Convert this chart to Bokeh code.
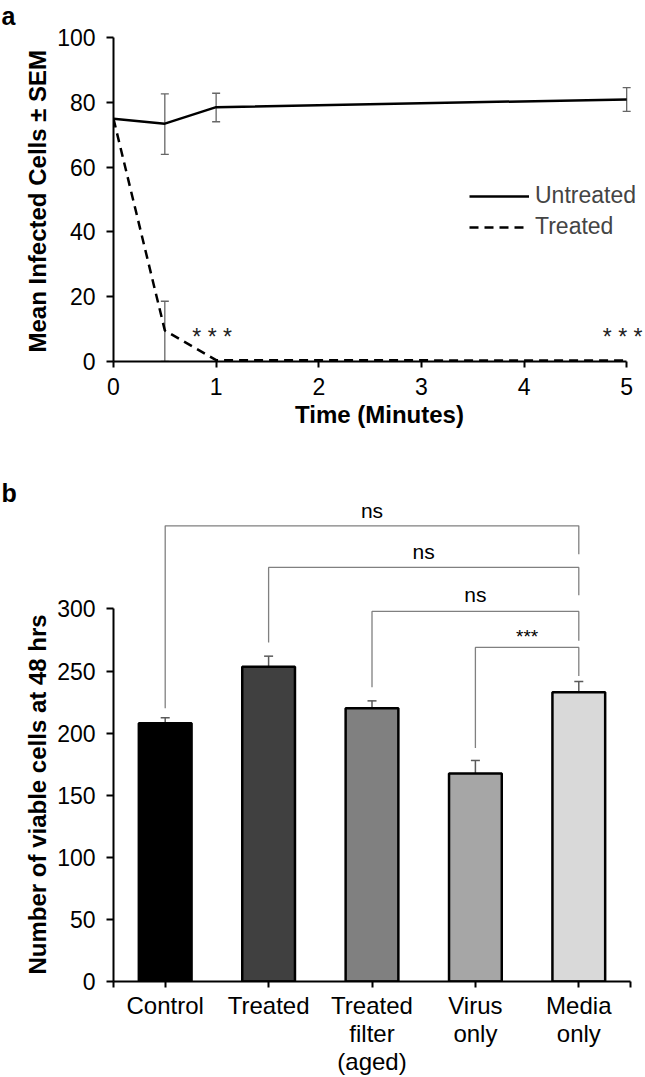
import numpy as np
from bokeh.plotting import figure
from bokeh.models import (Range1d, FixedTicker, Whisker, TeeHead, ColumnDataSource,
                          Legend, LegendItem, LabelSet, Title)
from bokeh.layouts import column, row
from bokeh.core.properties import value
from bokeh.embed import file_html
from bokeh.resources import INLINE

FONT = "Liberation Sans"

# ---------------- panel a data ----------------
time_min = [0, 0.5, 1, 5]
untreated_mean = [74.9, 73.4, 78.5, 80.9]
treated_mean = [74.9, 9.6, 0.4, 0.3]
untreated_err_time = [0.5, 1, 5]
untreated_upper = [82.6, 82.8, 84.5]
untreated_lower = [63.9, 74.0, 77.2]
treated_err_time = [0.5]
treated_upper = [18.6]
treated_lower = [0.0]
sig_time = [1, 5]
sig_y = [7.6, 7.6]
sig_text = ["* * *", "* * *"]
x_ticks_a = [0, 1, 2, 3, 4, 5]
y_ticks_a = [0, 20, 40, 60, 80, 100]

# ---------------- panel b data ----------------
groups = ["Control", "Treated", "Treated\nfilter\n(aged)", "Virus\nonly", "Media\nonly"]
viable = [208, 253.5, 220, 167.5, 233]
viable_upper = [212.5, 262, 226, 178, 241.5]
viable_lower = [203.5, 245, 214, 156, 225]
bar_colors = ["#000000", "#404040", "#808080", "#a6a6a6", "#d9d9d9"]
cmp_left = [0, 1, 2, 3]
cmp_right = [4, 4, 4, 4]
cmp_top = [367, 333.5, 298, 269]
cmp_left_end = [220, 273, 237, 188]
cmp_right_end = [344, 311, 274.5, 246]
cmp_label = ["ns", "ns", "ns", "***"]
cmp_label_y = [379, 346, 311.7, 278]
y_ticks_b = [0, 50, 100, 150, 200, 250, 300]


def style_axes(p):
    for ax in (p.xaxis[0], p.yaxis[0]):
        ax.axis_line_width = 2
        ax.axis_line_color = "black"
        ax.major_tick_line_width = 2
        ax.major_tick_line_color = "black"
        ax.major_tick_in = 0
        ax.minor_tick_line_color = None
        ax.major_label_text_font = FONT
        ax.major_label_text_font_size = "23px"
        ax.major_label_text_color = "black"
        ax.axis_label_text_font = FONT
        ax.axis_label_text_font_style = "bold"
        ax.axis_label_text_font_size = "24px"
        ax.axis_label_text_color = "black"
    p.xgrid.visible = False
    p.ygrid.visible = False
    p.outline_line_color = None


def panel_letter(letter, h, frame_h, baseline_y):
    # narrow strip holding the panel letter; its frame is aligned with the neighbour's frame
    f = figure(width=17, height=h, x_range=Range1d(0, 17), y_range=Range1d(frame_h, 0),
               x_axis_type=None, y_axis_type=None, output_backend="svg",
               toolbar_location=None, min_border=0)
    f.outline_line_color = None
    f.text(x=[1], y=[baseline_y], text=[letter], text_font=value(FONT),
           text_font_size="25px", text_font_style="bold", text_baseline="alphabetic",
           text_color="black")
    return f


# ---------------- panel a ----------------
HA = 440
BOT_A = 79
frame_h_a = HA - BOT_A
pa = figure(width=628, height=HA, x_range=Range1d(0, 5 * 537 / 518),
            y_range=Range1d(0, 100 * frame_h_a / 324),
            output_backend="svg", toolbar_location=None,
            min_border_left=91, min_border_right=0, min_border_top=0, min_border_bottom=BOT_A)
style_axes(pa)
pa.xaxis.ticker = FixedTicker(ticks=x_ticks_a)
pa.xaxis.bounds = (0, 5)
pa.xaxis.major_tick_out = 6
pa.xaxis.major_label_standoff = 10
pa.xaxis.axis_label = "Time (Minutes)"
pa.xaxis.axis_label_standoff = 3
pa.yaxis.ticker = FixedTicker(ticks=y_ticks_a)
pa.yaxis.bounds = (0, 100)
pa.yaxis.major_tick_out = 7
pa.yaxis.major_label_standoff = 11
pa.add_layout(Title(text="Mean Infected Cells ± SEM", align="left", offset=9,
                    standoff=8, text_font=FONT, text_font_size="24px",
                    text_font_style="bold", text_color="black"), "left")

err_col = "#666666"
for t, up, lo in ((untreated_err_time, untreated_upper, untreated_lower),
                  (treated_err_time, treated_upper, treated_lower)):
    src = ColumnDataSource(dict(base=t, upper=up, lower=lo))
    pa.add_layout(Whisker(base="base", upper="upper", lower="lower", source=src,
                          line_color=err_col, line_width=1.3,
                          upper_head=TeeHead(size=8, line_color=err_col, line_width=1.3),
                          lower_head=TeeHead(size=8, line_color=err_col, line_width=1.3)))

r_un = pa.line(time_min, untreated_mean, line_color="black", line_width=2.5)
r_tr = pa.line(time_min, treated_mean, line_color="black", line_width=2.5, line_dash="9 6")

sig_src = ColumnDataSource(dict(x=sig_time, y=sig_y, text=sig_text))
pa.add_layout(LabelSet(x="x", y="y", text="text", source=sig_src, text_align="center",
                       text_baseline="middle", text_font=value(FONT), text_font_size="23px",
                       text_color="#222222", x_offset=-4))

legend = Legend(items=[LegendItem(label="Untreated", renderers=[r_un]),
                       LegendItem(label="Treated", renderers=[r_tr])],
                location=(356, 121), label_text_font=FONT, label_text_font_size="23px",
                glyph_width=60, glyph_height=24, label_height=24, spacing=4, padding=0,
                margin=0, label_standoff=6, border_line_alpha=0, background_fill_alpha=0)
pa.add_layout(legend)

fa = panel_letter("a", HA, frame_h_a, 15)

# ---------------- panel b ----------------
HB = 637
BOT_B = 88
frame_h_b = HB - BOT_B
pb = figure(width=628, height=HB, x_range=Range1d(0, len(groups)),
            y_range=Range1d(0, 396 * frame_h_b / 499),
            output_backend="svg", toolbar_location=None,
            min_border_left=91, min_border_right=15, min_border_top=0, min_border_bottom=BOT_B)
style_axes(pb)
pos = [i + 0.5 for i in range(len(groups))]
pb.xaxis.ticker = FixedTicker(ticks=[0] + pos + [len(groups)])
overrides = {p_: g for p_, g in zip(pos, groups)}
overrides[0] = ""
overrides[len(groups)] = ""
pb.xaxis.major_label_overrides = overrides
pb.xaxis.major_tick_out = 6
pb.xaxis.major_label_standoff = 4
pb.xaxis.major_label_text_font_size = "24px"
pb.xaxis.major_label_text_line_height = 1.04
pb.yaxis.ticker = FixedTicker(ticks=y_ticks_b)
pb.yaxis.bounds = (0, 300)
pb.yaxis.major_tick_out = 7
pb.yaxis.major_label_standoff = 11
pb.add_layout(Title(text="Number of viable cells at 48 hrs", align="left", offset=7,
                    standoff=8, text_font=FONT, text_font_size="24px",
                    text_font_style="bold", text_color="black"), "left")

pb.vbar(x=pos, top=viable, width=0.51, fill_color=bar_colors, line_color="black", line_width=2.5)
bsrc = ColumnDataSource(dict(base=pos, upper=viable_upper, lower=viable_lower))
err_col_b = "#5a5a5a"
pb.add_layout(Whisker(base="base", upper="upper", lower="lower", source=bsrc,
                      line_color=err_col_b, line_width=1.5,
                      upper_head=TeeHead(size=9, line_color=err_col_b, line_width=1.5),
                      lower_head=TeeHead(size=9, line_color=err_col_b, line_width=1.5)))

xs, ys, lx = [], [], []
for l, r, top, le, re in zip(cmp_left, cmp_right, cmp_top, cmp_left_end, cmp_right_end):
    xs.append([pos[l], pos[l], pos[r], pos[r]])
    ys.append([le, top, top, re])
    lx.append((pos[l] + pos[r]) / 2)
pb.multi_line(xs, ys, line_color="#808080", line_width=1.3)

sizes = ["21px" if t == "ns" else "19px" for t in cmp_label]
lsrc = ColumnDataSource(dict(x=lx, y=cmp_label_y, text=cmp_label, size=sizes))
pb.text(x="x", y="y", text="text", source=lsrc, text_align="center", text_baseline="middle",
        text_font=value(FONT), text_font_size="size", text_color="black")

fb = panel_letter("b", HB, frame_h_b, 53)

layout = column(row(fa, pa), row(fb, pb))
open("out.html", "w").write(file_html(layout, INLINE))
